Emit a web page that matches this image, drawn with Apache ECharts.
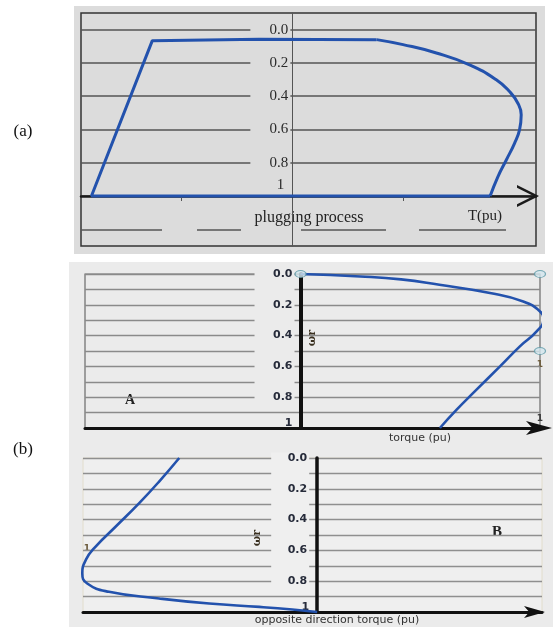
<!DOCTYPE html>
<html>
<head>
<meta charset="utf-8">
<script src="https://cdn.jsdelivr.net/npm/echarts@6/dist/echarts.min.js"></script>
<style>
  html, body { margin: 0; padding: 0; background: #ffffff; }
  #chart { width: 553px; height: 627px; }
</style>
</head>
<body>
<div id="chart"></div>
<script>
// Speed axis (pu), 0 at the top
const speedTicks = [0, 0.2, 0.4, 0.6, 0.8, 1];
const torqueTicksA = [-1, 1];

// (a) plugging trajectory: straight edges (bottom, left ramp, top plateau)
const plugEdgeTorque = [1.778, -1.806, -1.259, -0.3, 0.757];
const plugEdgeSpeed  = [1.0, 1.0, 0.066, 0.058, 0.06];
// (a) curved right-hand side
const plugBulgeTorque = [0.757, 0.995, 1.294, 1.593, 1.833, 1.952, 2.027, 2.057, 2.042, 1.997, 1.923, 1.847, 1.778];
const plugBulgeSpeed  = [0.06, 0.09, 0.14, 0.211, 0.301, 0.372, 0.442, 0.512, 0.602, 0.683, 0.783, 0.884, 1.0];
const plugDashedSpeed = 1.2;

// (b) A: torque vs speed
const motorSpeed  = [0, 0.016, 0.035, 0.07, 0.123, 0.178, 0.243, 0.297, 0.373, 0.47, 0.6, 0.751, 0.881, 1.0];
const motorTorque = [0, 0.25, 0.42, 0.58, 0.791, 0.93, 1.0, 1.014, 0.986, 0.916, 0.833, 0.735, 0.652, 0.582];
const handleTorque = [0, 1, 1];
const handleSpeed  = [0, 0, 0.5];

// (b) B: opposite direction torque vs speed
const brakeSpeed  = [0, 0.153, 0.293, 0.445, 0.575, 0.662, 0.749, 0.815, 0.869, 0.912, 0.945, 0.967, 0.984, 1.0];
const brakeTorque = [-0.589, -0.675, -0.76, -0.86, -0.946, -0.988, -1.003, -0.982, -0.889, -0.675, -0.461, -0.247, -0.106, 0];

const zip = (xs, ys) => xs.map((x, i) => [x, ys[i]]);
const BLUE = '#2352ad';
const BG_A = '#dcdcdc';
const BG_B = '#ebebeb';
const BG_B2 = '#efefef';

// grid boxes and torque ranges; the speed axis sits where torque = 0
const gridA = { left: 81, top: 13, width: 455, height: 233 };
const gridB1 = { left: 85, top: 274, width: 455, height: 154 };
const gridB2 = { left: 83, top: 458, width: 459, height: 154 };
const rangeA = [-1.9, 2.19];
const rangeB1 = [-0.9, 1.0];
const rangeB2 = [-1, 0.96];
const zeroOffset = (g, r) => -g.width * (0 - r[0]) / (r[1] - r[0]);

function speedLabel(v) {
  const r = Math.round(v * 10) / 10;
  if (r === 0) return '0.0';
  if (r === 1) return '1';
  return r.toFixed(1);
}

// labels for the (b) panels: every other split line carries a value
function makeBLabel(bgKey) {
  return function (v) {
    const k = Math.round(v * 10);
    if (k === 10) return '{u|1}';
    if (k % 2 === 1) return '{' + bgKey + '| }';
    return '{' + bgKey + '|' + speedLabel(v) + '}';
  };
}

const chart = echarts.init(document.getElementById('chart'), null, { renderer: 'canvas' });

const bFont = { fontFamily: 'DejaVu Sans', fontWeight: 'bold', fontSize: 11, color: '#262b3a' };

const option = {
  animation: false,
  backgroundColor: '#ffffff',
  grid: [
    Object.assign({ show: true, borderColor: '#333', borderWidth: 1.5, backgroundColor: 'transparent' }, gridA),
    Object.assign({ show: true, borderColor: '#6a6a6a', borderWidth: 1.2, backgroundColor: 'transparent' }, gridB1),
    Object.assign({ show: true, borderColor: '#e2ddcc', borderWidth: 1, backgroundColor: BG_B2 }, gridB2)
  ],
  xAxis: [
    {
      gridIndex: 0, type: 'value', min: rangeA[0], max: rangeA[1], offset: -50,
      axisLine: {
        onZero: false,
        lineStyle: { color: '#1a1a1a', width: 2.5 },
        symbol: ['none', 'path://M0,20 L10,0 L20,20 L17.5,20 L10,5 L2.5,20 Z'],
        symbolSize: [22, 22], symbolOffset: [0, -8]
      },
      axisTick: { show: true, customValues: torqueTicksA, length: 5, lineStyle: { color: '#555', width: 1 } },
      axisLabel: { show: false },
      splitLine: { show: false }
    },
    {
      gridIndex: 1, type: 'value', min: rangeB1[0], max: rangeB1[1],
      axisLine: {
        onZero: false,
        lineStyle: { color: '#111', width: 3 },
        symbol: ['none', 'arrow'], symbolSize: [10.5, 26], symbolOffset: [0, 12]
      },
      axisTick: { show: false }, axisLabel: { show: false }, splitLine: { show: false }
    },
    {
      gridIndex: 2, type: 'value', min: rangeB2[0], max: rangeB2[1],
      axisLine: {
        onZero: false,
        lineStyle: { color: '#111', width: 3 },
        symbol: ['none', 'arrow'], symbolSize: [9, 21], symbolOffset: [0, 3]
      },
      axisTick: { show: false }, axisLabel: { show: false }, splitLine: { show: false }
    }
  ],
  yAxis: [
    {
      gridIndex: 0, type: 'value', inverse: true, min: -0.1, max: 1.3,
      position: 'left', offset: zeroOffset(gridA, rangeA),
      axisLine: { onZero: false, lineStyle: { color: '#555', width: 1 } },
      axisTick: { show: false, customValues: speedTicks },
      axisLabel: {
        customValues: speedTicks, margin: 2,
        formatter: function (v) { return v === 1 ? '{u|1}' : '{n|' + speedLabel(v) + '}'; },
        rich: {
          n: { fontFamily: 'Liberation Serif', fontSize: 15, color: '#2a2a2a', backgroundColor: BG_A, width: 38, align: 'right', padding: [0, 2, 0, 0] },
          u: { fontFamily: 'Liberation Serif', fontSize: 15, color: '#2a2a2a', padding: [0, 6, 22, 0] }
        }
      },
      splitLine: { show: true, lineStyle: { color: '#555', width: 1.5 } }
    },
    {
      gridIndex: 1, type: 'value', inverse: true, min: 0, max: 1, interval: 0.1,
      position: 'left', offset: zeroOffset(gridB1, rangeB1),
      axisLine: { onZero: false, lineStyle: { color: '#111', width: 4 } },
      axisTick: { show: false },
      axisLabel: {
        margin: 6, showMaxLabel: true, showMinLabel: true, hideOverlap: false,
        formatter: makeBLabel('n'),
        rich: {
          n: Object.assign({ backgroundColor: BG_B, width: 38, align: 'right', padding: [0, 2, 0, 0], lineHeight: 13 }, bFont),
          u: Object.assign({ padding: [0, 2, 10, 0] }, bFont)
        }
      },
      splitLine: { show: true, lineStyle: { color: '#8a8a8a', width: 1.3 } }
    },
    {
      gridIndex: 2, type: 'value', inverse: true, min: 0, max: 1, interval: 0.1,
      position: 'left', offset: zeroOffset(gridB2, rangeB2),
      axisLine: { onZero: false, lineStyle: { color: '#111', width: 3.5 } },
      axisTick: { show: false },
      axisLabel: {
        margin: 8, showMaxLabel: true, showMinLabel: true, hideOverlap: false,
        formatter: makeBLabel('n'),
        rich: {
          n: Object.assign({ backgroundColor: BG_B2, width: 36, align: 'right', padding: [0, 2, 0, 0], lineHeight: 13 }, bFont),
          u: Object.assign({ padding: [0, 0, 10, 0] }, bFont)
        }
      },
      splitLine: { show: true, lineStyle: { color: '#8f8f8f', width: 1.3 } }
    }
  ],
  series: [
    {
      name: 'plugging edges', type: 'line', xAxisIndex: 0, yAxisIndex: 0,
      data: zip(plugEdgeTorque, plugEdgeSpeed),
      showSymbol: false, smooth: false, clip: false, z: 5,
      lineStyle: { color: BLUE, width: 3 },
      markLine: {
        silent: true, symbol: 'none', label: { show: false },
        lineStyle: { color: '#555', width: 1.5, type: [81, 35, 44, 60, 85, 33, 87, 30] },
        data: [{ yAxis: plugDashedSpeed }]
      }
    },
    {
      name: 'plugging curve', type: 'line', xAxisIndex: 0, yAxisIndex: 0,
      data: zip(plugBulgeTorque, plugBulgeSpeed),
      showSymbol: false, smooth: 0.5, clip: false, z: 5,
      lineStyle: { color: BLUE, width: 3 }
    },
    {
      name: 'torque', type: 'line', xAxisIndex: 1, yAxisIndex: 1,
      data: zip(motorTorque, motorSpeed),
      showSymbol: false, smooth: 0.5, clip: false, z: 5,
      lineStyle: { color: BLUE, width: 2.6 }
    },
    {
      name: 'handles', type: 'scatter', xAxisIndex: 1, yAxisIndex: 1,
      data: zip(handleTorque, handleSpeed), clip: false, z: 6,
      symbol: 'circle', symbolSize: [11, 7],
      itemStyle: { color: '#d3e6ee', borderColor: '#5d99a6', borderWidth: 1 }
    },
    {
      name: 'opposite torque', type: 'line', xAxisIndex: 2, yAxisIndex: 2,
      data: zip(brakeTorque, brakeSpeed),
      showSymbol: false, smooth: 0.5, clip: false, z: 5,
      lineStyle: { color: BLUE, width: 2.6 }
    }
  ],
  graphic: [
    { type: 'rect', z: -10, shape: { x: 74, y: 6, width: 471, height: 248 }, style: { fill: BG_A } },
    { type: 'rect', z: -10, shape: { x: 69, y: 262, width: 484, height: 365 }, style: { fill: BG_B } },
    { type: 'rect', z: -5, shape: { x: 83, y: 458, width: 6, height: 154 }, style: { fill: '#e3dfcd' } },
    { type: 'text', x: 23, y: 132, style: { text: '(a)', font: '17px "Liberation Serif"', fill: '#111', align: 'center', verticalAlign: 'middle' } },
    { type: 'text', x: 23, y: 450, style: { text: '(b)', font: '17px "Liberation Serif"', fill: '#111', align: 'center', verticalAlign: 'middle' } },
    { type: 'text', x: 309, y: 218, style: { text: 'plugging process', font: '16px "Liberation Serif"', fill: '#222', align: 'center', verticalAlign: 'middle' } },
    { type: 'text', x: 485, y: 216, style: { text: 'T(pu)', font: '15px "Liberation Serif"', fill: '#222', align: 'center', verticalAlign: 'middle' } },
    { type: 'text', x: 130, y: 400, style: { text: 'A', font: 'bold 14px "Liberation Serif"', fill: '#222', align: 'center', verticalAlign: 'middle' } },
    { type: 'text', x: 497, y: 532, style: { text: 'B', font: 'bold 15px "Liberation Serif"', fill: '#222', align: 'center', verticalAlign: 'middle' } },
    { type: 'text', x: 420, y: 438, style: { text: 'torque (pu)', font: '11px "DejaVu Sans"', fill: '#333', align: 'center', verticalAlign: 'middle' } },
    { type: 'text', x: 337, y: 620, style: { text: 'opposite direction torque (pu)', font: '11px "DejaVu Sans"', fill: '#333', align: 'center', verticalAlign: 'middle' } },
    { type: 'text', x: 540, y: 365, style: { text: '1', font: 'bold 9px "DejaVu Sans"', fill: '#6b5a3a', align: 'center', verticalAlign: 'middle' } },
    { type: 'text', x: 540, y: 419, style: { text: '1', font: 'bold 9px "DejaVu Sans"', fill: '#3a3a3a', align: 'center', verticalAlign: 'middle' } },
    { type: 'text', x: 87, y: 549, style: { text: '1', font: 'bold 9px "DejaVu Sans"', fill: '#6b5a3a', align: 'center', verticalAlign: 'middle' } },
    { type: 'text', x: 312, y: 338, rotation: Math.PI / 2, style: { text: 'ωr', font: 'bold 11px "DejaVu Serif"', fill: '#3a3020', align: 'center', verticalAlign: 'middle' } },
    { type: 'text', x: 257, y: 538, rotation: Math.PI / 2, style: { text: 'ωr', font: 'bold 11px "DejaVu Serif"', fill: '#3a3020', align: 'center', verticalAlign: 'middle' } }
  ]
};

chart.setOption(option);
</script>
</body>
</html>
